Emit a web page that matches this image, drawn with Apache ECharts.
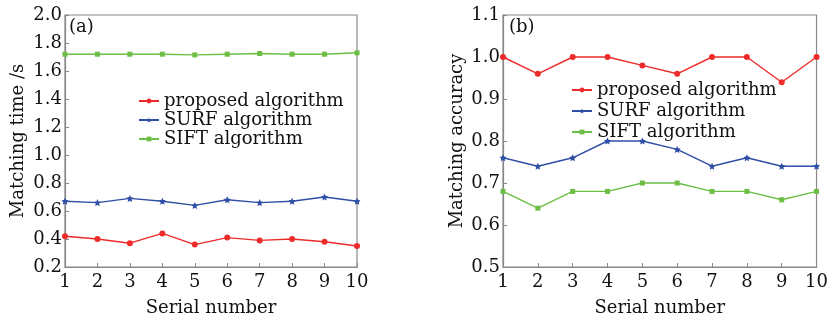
<!DOCTYPE html>
<html><head><meta charset="utf-8">
<script src="https://cdn.jsdelivr.net/npm/echarts@6/dist/echarts.min.js"></script>
<style>html,body{margin:0;padding:0;background:#fff}#c{width:831px;height:322px}</style>
</head><body><div id="c"></div>
<script>
const serial = [1,2,3,4,5,6,7,8,9,10];
const names = ['proposed algorithm','SURF algorithm','SIFT algorithm'];
const timeProposed = [0.42,0.40,0.37,0.44,0.36,0.41,0.39,0.40,0.38,0.35];
const timeSURF = [0.67,0.66,0.69,0.67,0.64,0.68,0.66,0.67,0.70,0.67];
const timeSIFT = [1.72,1.72,1.72,1.72,1.715,1.72,1.725,1.72,1.72,1.73];
const accProposed = [1.00,0.96,1.00,1.00,0.98,0.96,1.00,1.00,0.94,1.00];
const accSURF = [0.76,0.74,0.76,0.80,0.80,0.78,0.74,0.76,0.74,0.74];
const accSIFT = [0.68,0.64,0.68,0.68,0.70,0.70,0.68,0.68,0.66,0.68];

const colors = ['#ee2b2b','#2f4fa6','#6cbf45'];
const star = 'path://M0,-10 L2.9,-4 L9.5,-3.1 L4.8,1.5 L5.9,8.1 L0,5 L-5.9,8.1 L-4.8,1.5 L-9.5,-3.1 L-2.9,-4 Z';
const symbols = ['circle', star, 'rect'];
const sizes = [6, 7, 5];
const font = 'DejaVu Serif';
const fs = 18;
const axisCol = '#888';

function xAxis(idx){
  return {type:'value', gridIndex:idx, min:1, max:10, interval:1,
    name:'Serial number', nameLocation:'middle', nameGap:32,
    nameTextStyle:{fontFamily:font,fontSize:fs,color:'#111'},
    axisLine:{lineStyle:{color:axisCol,width:1.2}},
    axisTick:{inside:true,length:4,lineStyle:{color:axisCol}},
    axisLabel:{fontFamily:font,fontSize:fs,color:'#111',margin:6},
    splitLine:{show:false}};
}
function yAxis(idx,min,max,interval,name){
  return {type:'value', gridIndex:idx, min:min, max:max, interval:interval,
    name:name, nameLocation:'middle', nameGap:idx===0?38:37,
    nameTextStyle:{fontFamily:font,fontSize:fs,color:'#111'},
    axisLine:{lineStyle:{color:axisCol,width:1.2}},
    axisTick:{inside:true,length:4,lineStyle:{color:axisCol}},
    axisLabel:{fontFamily:font,fontSize:fs,color:'#111',margin:3,formatter:v=>v.toFixed(1)},
    splitLine:{show:false}};
}
function ser(i,data,idx){
  return {name:names[i], type:'line', xAxisIndex:idx, yAxisIndex:idx,
    data: serial.map((s,k)=>[s,data[k]]),
    symbol:symbols[i], symbolSize:sizes[i], showSymbol:true,
    lineStyle:{color:colors[i],width:1.4}, itemStyle:{color:colors[i]}, animation:false};
}
const chart = echarts.init(document.getElementById('c'));
chart.setOption({
  animation:false,
  grid:[{left:65,top:15,width:292,height:257,show:true,borderColor:axisCol,borderWidth:1.2},
        {left:503,top:15,width:318,height:258,show:true,borderColor:axisCol,borderWidth:1.2}],
  xAxis:[xAxis(0),xAxis(1)],
  yAxis:[yAxis(0,0.2,2.0,0.2,'Matching time /s'),yAxis(1,0.5,1.1,0.1,'Matching accuracy')],
  legend:[
    {left:133,top:87,orient:'vertical',itemWidth:20,itemHeight:6,itemGap:1,
     textStyle:{fontFamily:font,fontSize:fs,color:'#111'},data:names},
    {left:566,top:76,orient:'vertical',itemWidth:20,itemHeight:6,itemGap:3,
     textStyle:{fontFamily:font,fontSize:fs,color:'#111'},data:names}
  ],
  graphic:[
    {type:'text',left:69,top:18,style:{text:'(a)',fontFamily:font,fontSize:fs,fill:'#111'}},
    {type:'text',left:509,top:18,style:{text:'(b)',fontFamily:font,fontSize:fs,fill:'#111'}}
  ],
  series:[ser(0,timeProposed,0),ser(1,timeSURF,0),ser(2,timeSIFT,0),
          ser(0,accProposed,1),ser(1,accSURF,1),ser(2,accSIFT,1)]
});
</script></body></html>
